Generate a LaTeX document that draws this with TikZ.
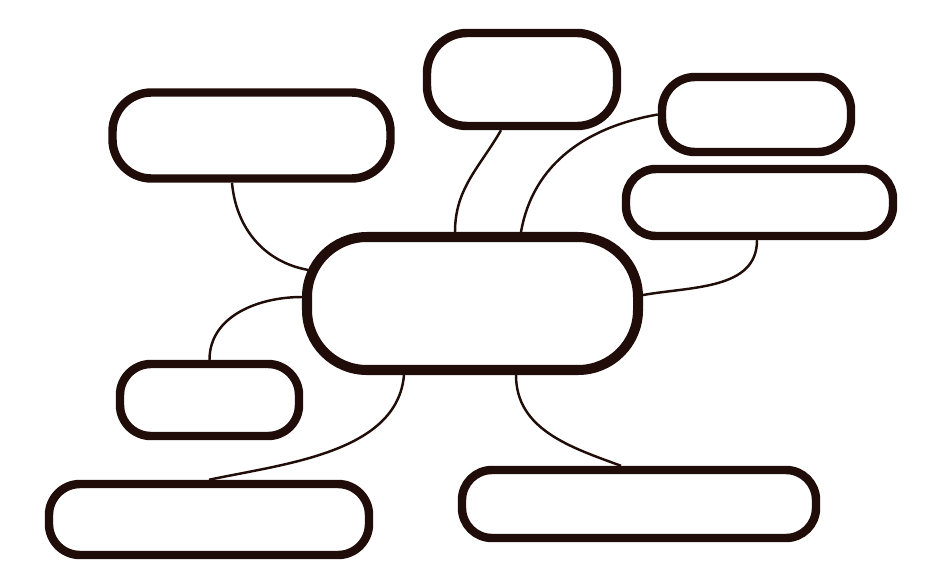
\documentclass[tikz,border=0pt]{standalone}
\usepackage{color}
\usepackage{tikz}
\usetikzlibrary{shapes, arrows, arrows.meta}
\definecolor{inkbrown}{RGB}{32,12,8}
\tikzstyle{bubble} = [rectangle, draw=inkbrown, fill=white, line width=4.8pt,
    rounded corners=0.62cm, inner sep=0pt]
\tikzstyle{hub} = [rectangle, draw=inkbrown, fill=white, line width=5.7pt,
    rounded corners=1.2cm, inner sep=0pt]
\tikzstyle{link} = [draw=inkbrown, line width=1.4pt]

\begin{document}
\begin{tikzpicture}
    \useasboundingbox (0,0) rectangle (18.8,11.68);
    % Nodes
    \node [hub, minimum width=6.62cm, minimum height=2.66cm] (hub) at (9.45,5.61) {};
    \node [bubble, minimum width=5.56cm, minimum height=1.72cm, rounded corners=0.78cm] (topleft) at (5.03,8.97) {};
    \node [bubble, minimum width=3.80cm, minimum height=1.86cm, rounded corners=0.8cm] (topmid) at (10.44,10.09) {};
    \node [bubble, minimum width=3.78cm, minimum height=1.50cm, rounded corners=0.66cm] (topright) at (15.13,9.39) {};
    \node [bubble, minimum width=5.34cm, minimum height=1.34cm, rounded corners=0.6cm] (right) at (15.19,7.63) {};
    \node [bubble, minimum width=3.58cm, minimum height=1.44cm] (smallleft) at (4.19,3.68) {};
    \node [bubble, minimum width=6.40cm, minimum height=1.42cm] (bottomleft) at (4.18,1.29) {};
    \node [bubble, minimum width=7.08cm, minimum height=1.36cm, rounded corners=0.6cm] (bottomright) at (12.78,1.60) {};
    % Edges
    \path [link] ([xshift=-0.39cm]topleft.south) to[out=-85, in=170] ([xshift=0.13cm, yshift=0.67cm]hub.west);
    \path [link] ([xshift=-0.42cm]topmid.south) to[out=-120, in=90] ([xshift=-0.35cm]hub.north);
    \path [link] (topright.west) to[out=190, in=80] ([xshift=0.97cm]hub.north);
    \path [link] ([xshift=-0.05cm]right.south) to[out=-90, in=10] ([yshift=0.17cm]hub.east);
    \path [link] ([yshift=0.13cm]hub.west) to[out=180, in=90] (smallleft.north);
    \path [link] ([xshift=-1.37cm]hub.south) to[out=-95, in=12, looseness=0.9] (bottomleft.north);
    \path [link] ([xshift=0.87cm]hub.south) to[out=-90, in=160] ([xshift=-0.36cm]bottomright.north);
\end{tikzpicture}
\end{document}
